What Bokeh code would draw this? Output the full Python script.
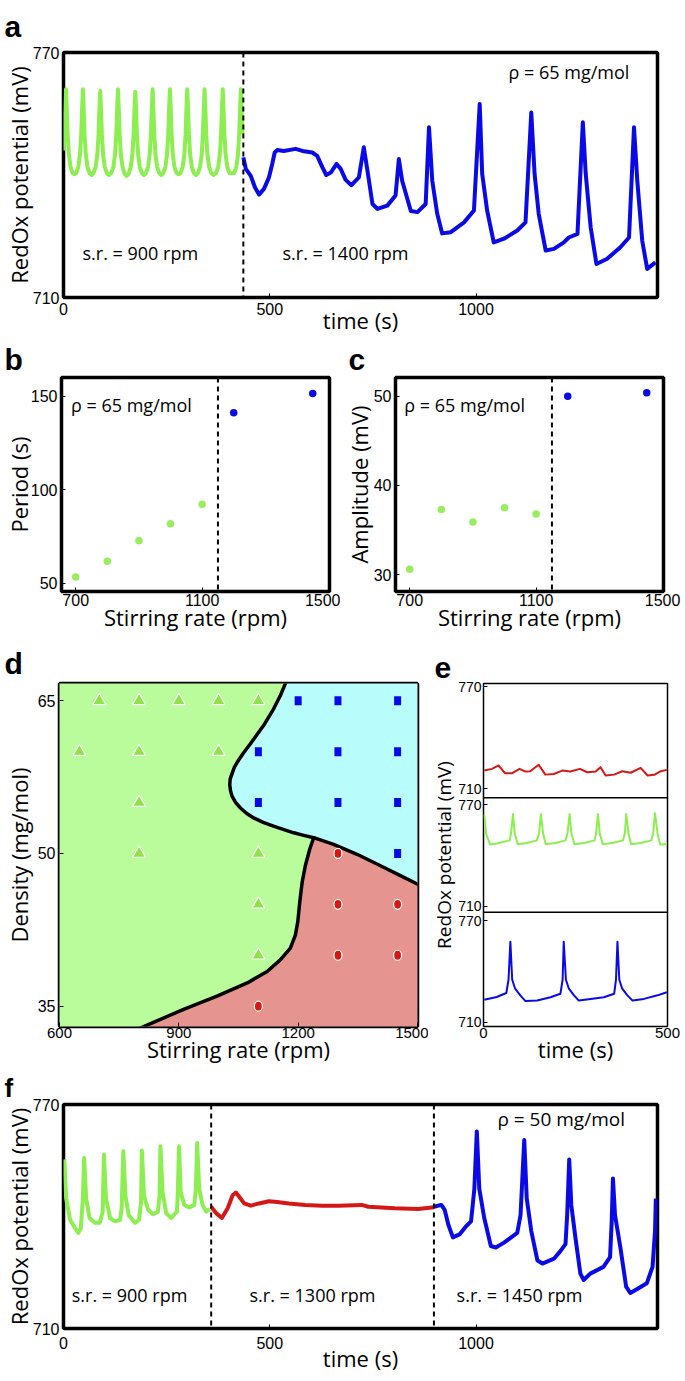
from bokeh.plotting import figure
from bokeh.layouts import column, row
from bokeh.models import Span, Label, FixedTicker, Range1d, ColumnDataSource
from bokeh.transform import dodge
from bokeh.embed import file_html
from bokeh.resources import INLINE

# ===================== DATA =====================
# ---- panel a : rho = 65 mg/mol, s.r. 900 -> 1400 rpm ----
a_green_t = [0, 2, 4, 6,
             8, 10, 13, 17, 22, 27, 31, 36, 40, 43, 45, 47,
             49, 51, 54, 58, 63, 68, 73, 78, 82, 85, 87, 89,
             91, 93, 96, 100, 105, 110, 116, 121, 125, 128, 130, 132,
             134, 136, 139, 143, 148, 153, 158, 163, 167, 170, 172, 174,
             176, 178, 181, 185, 190, 195, 200, 205, 209, 212, 214, 216,
             218, 220, 223, 227, 232, 237, 242, 247, 251, 254, 256, 258,
             260, 262, 265, 269, 274, 279, 284, 289, 293, 296, 298, 300,
             302, 304, 307, 311, 316, 321, 326, 331, 335, 338, 340, 342,
             344, 346, 349, 353, 358, 364, 370, 375, 379, 382, 384, 386,
             388, 390, 393, 397, 402, 408, 414, 419, 423, 426, 428, 430,
             432, 434]
a_green_v = [746, 750, 756, 761,
             756, 750, 745, 742, 740.5, 740.2, 740.5, 742, 745, 750, 756, 761,
             756, 750, 745, 742, 740.5, 740, 740.5, 742, 745, 750, 756, 760.6,
             756, 750, 745, 742, 740.5, 740, 740.5, 742, 745, 750, 756, 761,
             756, 750, 745, 742, 740.3, 739.8, 740.3, 742, 745, 750, 756, 760.4,
             756, 750, 745, 742, 740.5, 740, 740.5, 742, 745, 750, 756, 761,
             756, 750, 745, 742, 740.5, 740, 740.5, 742, 745, 750, 756, 761,
             756, 750, 745, 742, 740.5, 740.2, 740.5, 742, 745, 750, 756, 761,
             756, 750, 745, 742, 740.5, 740, 740.5, 742, 745, 750, 756, 761,
             756, 750, 745, 742, 740.5, 740, 740.5, 742, 745, 750, 756, 761,
             756, 750, 745, 742, 740.5, 740.4, 740.5, 742, 745, 750, 756, 761,
             756, 750]
a_blue_t = [436, 442, 454, 464, 474, 486, 498, 506, 512, 518, 534, 563, 583, 603, 615,
            628, 637, 648, 662, 672, 684, 698, 716, 728, 738, 749, 761, 785, 805, 813,
            821, 842, 858, 878, 886, 894, 906, 918, 939, 971, 995, 1009, 1015, 1027, 1043,
            1068, 1100, 1120, 1134, 1142, 1152, 1169, 1189, 1213, 1225, 1246, 1259, 1266,
            1278, 1292, 1318, 1350, 1371, 1383, 1391, 1403, 1415, 1435]
a_blue_v = [744.3, 741.5, 739.8, 737.0, 735.2, 736.6, 739.4, 742.7, 745.5, 746.1, 745.9, 746.4, 745.8, 745.5, 744.7,
            741.8, 740.0, 740.6, 742.7, 741.5, 738.8, 737.5, 739.4, 746.8, 740.3, 732.9, 731.7, 732.5, 735.0, 743.9,
            738.6, 731.2, 730.9, 732.9, 751.7, 738.6, 730.5, 725.7, 726.0, 728.4, 731.3, 757.4, 740.3, 731.3, 723.5,
            724.4, 726.4, 728.4, 755.3, 740.3, 730.5, 721.5, 721.9, 723.5, 724.7, 725.6, 752.9, 740.3,
            727.2, 718.2, 719.5, 722.3, 724.7, 751.7, 738.6, 723.9, 717.0, 718.6]
a_switch_t = [436]

# ---- panels b, c : rho = 65 mg/mol ----
bc_green_rpm = [700, 800, 900, 1000, 1100]
b_green_period = [53.2, 61.7, 72.6, 81.7, 92.2]
c_green_amp = [30.6, 37.3, 35.9, 37.5, 36.8]
bc_blue_rpm = [1200, 1450]
b_blue_period = [141.1, 151.4]
c_blue_amp = [50.0, 50.4]
bc_switch_rpm = 1150

# ---- panel d : phase diagram (stirring rate, density) ----
d_tri_rpm = [700, 800, 900, 1000, 1100, 650, 800, 1000, 800, 800, 1100, 1100, 1100]
d_tri_dens = [65, 65, 65, 65, 65, 60, 60, 60, 55, 50, 50, 45, 40]
d_sq_rpm = [1200, 1300, 1450, 1100, 1300, 1450, 1100, 1300, 1450, 1450]
d_sq_dens = [65, 65, 65, 60, 60, 60, 55, 55, 55, 50]
d_circ_rpm = [1300, 1300, 1450, 1300, 1450, 1100]
d_circ_dens = [50, 45, 45, 40, 40, 35]
# boundary green | cyan (top -> triple point)
d_b1_rpm = [1171, 1155, 1138, 1113, 1080, 1062, 1050, 1040, 1034, 1029, 1028, 1030, 1034, 1043, 1055, 1070,
            1088, 1112, 1138, 1164, 1189, 1214, 1239]
d_b1_dens = [67.0, 65.49, 64.19, 62.57, 60.79, 59.85, 59.16, 58.5, 57.87, 57.3, 56.73, 56.15, 55.60, 55.0,
             54.47, 53.95, 53.49, 53.05, 52.68, 52.35, 52.03, 51.78, 51.55]
# boundary cyan | red (triple point -> right edge)
d_b2_rpm = [1239, 1289, 1348, 1407, 1457, 1510]
d_b2_dens = [51.55, 50.9, 49.92, 48.79, 47.82, 46.8]
# boundary green | red (triple point -> bottom)
d_b3_rpm = [1239, 1229, 1218, 1210, 1204, 1199, 1193, 1180, 1155, 1122, 1072, 996, 912, 845, 800]
d_b3_dens = [51.55, 50.41, 48.79, 47.17, 45.22, 43.28, 41.98, 40.68, 39.55, 38.41, 37.28, 35.98, 34.69, 33.55, 32.8]

# ---- panel e : three example traces (0-500 s) ----
e_red_t = [2, 23, 41, 59, 77, 98, 114, 127, 150, 168, 191, 214, 236, 262, 282, 305, 318, 332, 355, 377,
           400, 427, 446, 464, 482, 498]
e_red_v = [720.6, 721.6, 723.6, 719.0, 719.0, 721.6, 720.0, 720.2, 724.0, 718.2, 718.6, 720.6, 720.0, 721.6,
           719.6, 720.0, 722.6, 717.7, 718.2, 720.2, 719.3, 722.2, 717.7, 718.1, 720.2, 721.0]
e_green_t = [2, 7, 18, 36,
             71, 75, 80, 85, 93, 118,
             145, 151, 156, 162, 169, 195,
             223, 228, 234, 239, 247, 273,
             302, 306, 311, 316, 324, 350,
             379, 384, 388, 394, 401, 427,
             456, 461, 466, 473, 480, 498]
e_green_v = [764.2, 752.9, 746.4, 747.0,
             748.9, 752.9, 764.4, 752.9, 746.6, 747.3,
             748.9, 752.9, 764.4, 752.9, 746.6, 747.3,
             748.9, 752.9, 764.4, 752.9, 746.6, 747.3,
             748.9, 752.9, 764.4, 752.9, 746.6, 747.3,
             748.9, 752.9, 764.4, 752.9, 746.6, 747.3,
             748.9, 752.9, 764.9, 752.9, 746.4, 746.6]
e_blue_t = [2, 36, 62, 68, 73, 78, 86, 100, 114, 146, 182, 209, 215, 218, 224, 232, 246, 259, 291, 327,
            355, 360, 364, 369, 377, 391, 405, 436, 473, 498]
e_blue_v = [723.3, 724.9, 727.3, 735.1, 757.6, 735.1, 729.8, 725.9, 722.5, 722.8, 724.8, 726.8, 735.1, 757.6,
            735.1, 729.8, 725.9, 722.8, 723.8, 724.8, 726.8, 735.1, 757.6, 735.1, 729.8, 725.9, 722.8, 723.8,
            725.9, 727.7]

# ---- panel f : rho = 50 mg/mol, s.r. 900 -> 1300 -> 1450 rpm ----
f_green_t = [2, 6.5, 16, 28, 36, 42, 47, 50, 55, 63, 76, 88, 95, 98, 103, 113, 125, 137, 141, 145,
             150, 158, 173, 183, 188, 190, 195, 205, 217, 229, 233, 235, 240, 249, 261, 275, 277, 280,
             284, 293, 305, 317, 321, 324, 329, 337, 346, 354]
f_green_v = [755.3, 744.8, 739.1, 736.9, 735.6, 736.9, 744.8, 755.7, 744.8, 739.6, 738.3, 738.3, 741.3, 756.6,
             744.8, 739.6, 738.7, 739.1, 742.2, 757.5, 745.7, 740.4, 738.3, 739.1, 743.9, 757.7, 745.7, 741.8,
             740.6, 741.3, 745.7, 758.8, 746.6, 740.9, 739.6, 741.3, 745.7, 758.8, 746.6, 743.1, 742.4, 743.1,
             747.4, 759.7, 747.4, 743.1, 741.3, 742.0]
f_red_t = [358, 370, 384, 398, 410, 418, 426, 438, 454, 474, 498, 518, 546, 586, 627, 667, 723, 739, 803, 860, 898]
f_red_v = [742.6, 740.9, 739.6, 742.2, 745.7, 746.4, 745.3, 743.5, 742.9, 743.5, 744.1, 743.9, 743.5, 743.1,
           742.9, 742.9, 743.1, 742.6, 742.2, 742.0, 742.5]
f_blue_t = [898, 916, 924, 933, 944, 960, 976, 988, 996, 1002, 1008, 1020, 1036, 1048, 1068, 1100, 1108, 1117,
            1123, 1134, 1149, 1161, 1189, 1205, 1217, 1221, 1226, 1231, 1241, 1253, 1261, 1277, 1309, 1325,
            1329, 1332, 1337, 1350, 1364, 1374, 1394, 1414, 1428, 1434, 1436]
f_blue_v = [742.6, 743.1, 741.8, 737.8, 734.4, 735.2, 737.4, 738.7, 747.4, 762.8, 747.4, 739.6, 732.1, 731.7,
            733.0, 735.6, 740.4, 760.5, 744.8, 736.1, 728.2, 727.4, 728.7, 730.8, 732.6, 740.4, 755.3, 743.1,
            734.4, 724.7, 723.0, 724.7, 726.5, 729.1, 738.7, 750.2, 740.4, 731.7, 721.2, 719.5, 720.8, 722.1,
            726.5, 736.1, 744.8]
f_switch_t = [358, 898]

# tick values / labels
a_xticks = [0, 500, 1000]
redox_yticks = [710, 770]
b_yticks = [50, 100, 150]
c_yticks = [30, 40, 50]
bc_xticks = [700, 1100, 1500]
d_xticks = [600, 900, 1200, 1500]
d_yticks = [35, 50, 65]
e_xticks = [0, 500]

# ===================== STYLE =====================
GREEN = "#8cee50"
GREEN_DOT = "#98ee5e"
BLUE = "#0a0ae6"
RED = "#d41818"
TRI_GREEN = "#8fe248"
FILL_GREEN = "#bafc9c"
FILL_CYAN = "#b8fcfc"
FILL_RED = "#e6948f"
TICK_FONT = "Liberation Sans"
TEXT_FONT = "Open Sans"


def base_fig(width, height, xr, yr, border, outline=3.5, tick_size=16, label_size=22):
    l, r, t, b = border
    p = figure(width=width, height=height, x_range=Range1d(*xr), y_range=Range1d(*yr),
               output_backend="svg", toolbar_location=None,
               min_border_left=l, min_border_right=r, min_border_top=t, min_border_bottom=b)
    p.xgrid.visible = False
    p.ygrid.visible = False
    p.outline_line_color = "black"
    p.outline_line_width = outline
    p.outline_line_alpha = 1.0
    p.background_fill_color = "white"
    p.border_fill_color = "white"
    for ax in p.axis:
        ax.axis_line_color = None
        ax.major_tick_in = 4
        ax.major_tick_out = 0
        ax.major_tick_line_color = "black"
        ax.minor_tick_line_color = None
        ax.major_label_text_font = TICK_FONT
        ax.major_label_text_font_size = f"{tick_size}px"
        ax.major_label_text_line_height = 1.0
        ax.major_label_text_color = "black"
        ax.axis_label_text_font = TEXT_FONT
        ax.axis_label_text_font_size = f"{label_size}px"
        ax.axis_label_text_font_style = "normal"
        ax.axis_label_text_color = "black"
    return p


def set_standoffs(p, x_tick, x_lab, y_tick, y_lab):
    p.xaxis.major_label_standoff = x_tick
    p.xaxis.axis_label_standoff = x_lab
    p.yaxis.major_label_standoff = y_tick
    p.yaxis.axis_label_standoff = y_lab


def add_text(p, x, y, s, size=18):
    p.add_layout(Label(x=x, y=y, text=s, text_font=TEXT_FONT, text_font_size=f"{size}px",
                       text_baseline="middle", text_align="left", text_color="black"))


def panel_letter(p, s, offset, standoff, size=30, line_height=1.0, valign="top"):
    p.title.text = s
    p.title.text_font = "Liberation Sans"
    p.title.text_font_style = "bold"
    p.title.text_font_size = f"{size}px"
    p.title.text_line_height = line_height
    p.title.text_color = "black"
    p.title.align = "left"
    p.title.vertical_align = valign
    p.title.offset = offset
    p.title.standoff = standoff


def vdash(p, loc):
    p.add_layout(Span(location=loc, dimension="height", line_color="black",
                      line_width=2, line_dash="5 4"))


# ---------------- panel a ----------------
pa = base_fig(685, 342, (0, 1440), (710, 770), (63, 28, 52, 45))
pa.xaxis.ticker = FixedTicker(ticks=a_xticks)
pa.yaxis.ticker = FixedTicker(ticks=redox_yticks)
pa.xaxis.axis_label = "time (s)"
pa.yaxis.axis_label = "RedOx potential (mV)"
set_standoffs(pa, 5, -13, 4, -4)
pa.line(a_green_t, a_green_v, line_color=GREEN, line_width=4, line_join="round")
pa.line(a_blue_t, a_blue_v, line_color=BLUE, line_width=4, line_join="round")
for s in a_switch_t:
    vdash(pa, s)
add_text(pa, 1079, 765.3, "ρ = 65 mg/mol")
add_text(pa, 46, 720.8, "s.r. = 900 rpm")
add_text(pa, 531, 720.8, "s.r. = 1400 rpm")
panel_letter(pa, "a", -59, 16, line_height=0.8)

# ---------------- panel b ----------------
pb = base_fig(340, 298, (655, 1503), (45.5, 160), (61, 11, 35, 48))
pb.xaxis.ticker = FixedTicker(ticks=bc_xticks)
pb.yaxis.ticker = FixedTicker(ticks=b_yticks)
pb.xaxis.axis_label = "Stirring rate (rpm)"
pb.yaxis.axis_label = "Period (s)"
set_standoffs(pb, 2, -7, 4, -6)
vdash(pb, bc_switch_rpm)
pb.scatter(bc_green_rpm, b_green_period, size=7.5, fill_color=GREEN_DOT, line_color=None)
pb.scatter(bc_blue_rpm, b_blue_period, size=7.5, fill_color=BLUE, line_color=None)
add_text(pb, 685, 145.2, "ρ = 65 mg/mol")
panel_letter(pb, "b", -57, 0)

# ---------------- panel c ----------------
pc = base_fig(345, 298, (655, 1503), (28.1, 52.1), (55, 22, 35, 49))
pc.xaxis.ticker = FixedTicker(ticks=bc_xticks)
pc.yaxis.ticker = FixedTicker(ticks=c_yticks)
pc.xaxis.axis_label = "Stirring rate (rpm)"
pc.yaxis.axis_label = "Amplitude (mV)"
set_standoffs(pc, 2, -7, 4, -3)
vdash(pc, bc_switch_rpm)
pc.scatter(bc_green_rpm, c_green_amp, size=7.5, fill_color=GREEN_DOT, line_color=None)
pc.scatter(bc_blue_rpm, c_blue_amp, size=7.5, fill_color=BLUE, line_color=None)
add_text(pc, 683, 49.0, "ρ = 65 mg/mol")
panel_letter(pc, "c", -47, 0)

# ---------------- panel d ----------------
pd_ = base_fig(428, 432, (600, 1500), (33.0, 66.7), (59, 11, 39, 46))
pd_.xaxis.ticker = FixedTicker(ticks=d_xticks)
pd_.yaxis.ticker = FixedTicker(ticks=d_yticks)
pd_.xaxis.axis_label = "Stirring rate (rpm)"
pd_.yaxis.axis_label = "Density (mg/mol)"
pd_.xaxis.major_label_text_font_size = "15px"
set_standoffs(pd_, 1, -7, 4, 1)
X_LO, X_HI, Y_LO = 590, d_b2_rpm[-1], d_b3_dens[-1]
Y_HI = d_b1_dens[0]
green_x = [X_LO] + d_b1_rpm + d_b3_rpm[1:] + [X_LO]
green_y = [Y_HI] + d_b1_dens + d_b3_dens[1:] + [Y_LO]
cyan_x = d_b1_rpm + d_b2_rpm[1:] + [X_HI]
cyan_y = d_b1_dens + d_b2_dens[1:] + [Y_HI]
red_x = d_b2_rpm + [X_HI] + d_b3_rpm[::-1][:-1]
red_y = d_b2_dens + [Y_LO] + d_b3_dens[::-1][:-1]
pd_.patch(green_x, green_y, fill_color=FILL_GREEN, line_color=None)
pd_.patch(cyan_x, cyan_y, fill_color=FILL_CYAN, line_color=None)
pd_.patch(red_x, red_y, fill_color=FILL_RED, line_color=None)
for bx, by in [(d_b1_rpm, d_b1_dens), (d_b2_rpm, d_b2_dens), (d_b3_rpm, d_b3_dens)]:
    pd_.line(bx, by, line_color="black", line_width=3.5, line_join="round", line_cap="round")
pd_.scatter(d_tri_rpm, d_tri_dens, marker="triangle", size=13, fill_color=TRI_GREEN,
            line_color="white", line_width=1.2)
pd_.rect(d_sq_rpm, d_sq_dens, width=7, height=9, width_units="screen", height_units="screen",
         fill_color=BLUE, line_color=None)
pd_.ellipse(d_circ_rpm, d_circ_dens, width=8, height=10, width_units="screen", height_units="screen",
            fill_color=RED, line_color="white", line_width=1.2)
panel_letter(pd_, "d", -55, 3, line_height=0.55)

# ---------------- panel e (three stacked windows, 67.5 mV each) ----------------
E_SPAN = 67.5
e_windows_low = [704.5, 706.5, 707.5]   # lower bound of each window, top -> bottom
pe = base_fig(257, 432, (0, 500), (0, 3 * E_SPAN), (55, 18, 43, 45), outline=1.5,
              tick_size=14, label_size=19)
pe.xaxis.ticker = FixedTicker(ticks=e_xticks)
pe.xaxis.axis_label = "time (s)"
pe.yaxis.axis_label = "RedOx potential (mV)"
pe.xaxis.axis_label_text_font_size = "22px"
pe.xaxis.major_label_text_font_size = "15px"
set_standoffs(pe, 1, -7, 2, -2)
ticks, overrides = [], {}
for k, (tt, vv, col) in enumerate([(e_red_t, e_red_v, RED), (e_green_t, e_green_v, GREEN),
                                   (e_blue_t, e_blue_v, BLUE)]):
    base = E_SPAN * (2 - k)
    off = base - e_windows_low[k]
    src = ColumnDataSource(dict(t=tt, v=vv))
    pe.line(x="t", y=dodge("v", off), source=src, line_color=col, line_width=2, line_join="round")
    for tv in redox_yticks:
        key = tv + off
        key = int(key) if float(key).is_integer() else key
        ticks.append(key)
        overrides[key] = str(tv)
    if k > 0:
        pe.add_layout(Span(location=base + E_SPAN, dimension="width", line_color="black", line_width=1.5))
pe.yaxis.ticker = FixedTicker(ticks=ticks)
pe.yaxis.major_label_overrides = overrides
panel_letter(pe, "e", -49, 7, line_height=0.4)

# ---------------- panel f ----------------
pf = base_fig(685, 309, (0, 1440), (710, 770), (63, 25, 27, 53))
pf.xaxis.ticker = FixedTicker(ticks=a_xticks)
pf.yaxis.ticker = FixedTicker(ticks=redox_yticks)
pf.xaxis.axis_label = "time (s)"
pf.yaxis.axis_label = "RedOx potential (mV)"
set_standoffs(pf, 8, -9, 4, -4)
pf.line(f_green_t, f_green_v, line_color=GREEN, line_width=4, line_join="round")
pf.line(f_red_t, f_red_v, line_color=RED, line_width=4, line_join="round")
pf.line(f_blue_t, f_blue_v, line_color=BLUE, line_width=4, line_join="round")
for s in f_switch_t:
    vdash(pf, s)
add_text(pf, 1052, 766.1, "ρ = 50 mg/mol", 19)
add_text(pf, 20, 719.1, "s.r. = 900 rpm")
add_text(pf, 451, 719.1, "s.r. = 1300 rpm")
add_text(pf, 953, 719.1, "s.r. = 1450 rpm")
panel_letter(pf, "f", -59, 0, size=26, line_height=0.8)

layout = column(pa, row(pb, pc), row(pd_, pe), pf)
open("out.html", "w").write(file_html(layout, INLINE))
